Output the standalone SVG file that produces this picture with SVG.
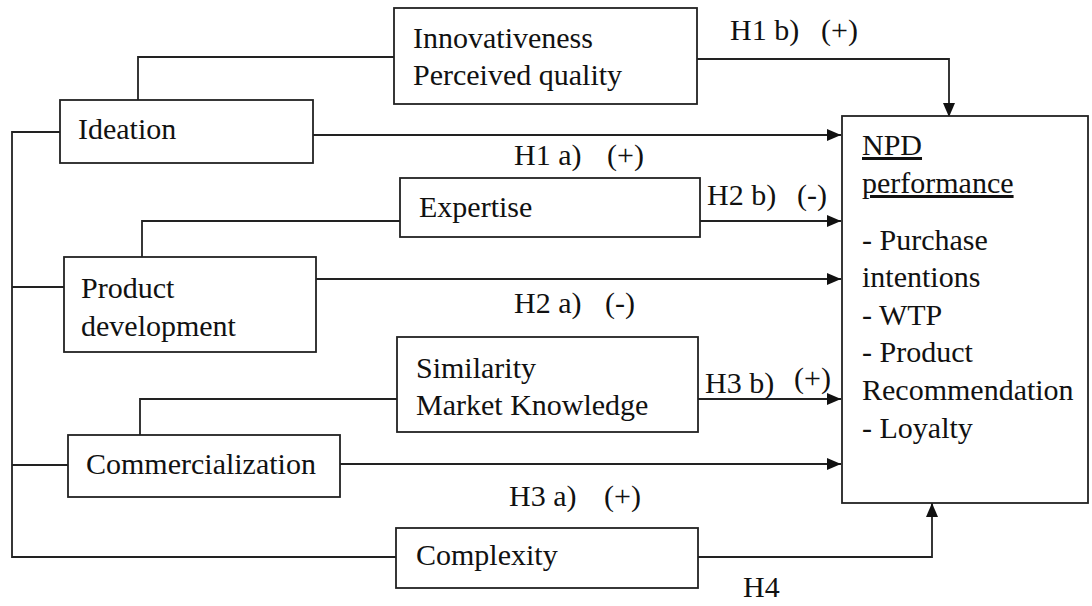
<svg xmlns="http://www.w3.org/2000/svg" width="1092" height="606" viewBox="0 0 1092 606">
<style>
  .box { fill: #ffffff; stroke: #222222; stroke-width: 1.8; }
  .ln { fill: none; stroke: #222222; stroke-width: 1.8; }
  .arr { fill: none; stroke: #222222; stroke-width: 1.8; marker-end: url(#ah); }
  text { font-family: "Liberation Serif", "Times New Roman", serif; font-size: 30px; fill: #111111; }
  .u { text-decoration: underline; }
</style>
<defs>
  <marker id="ah" markerUnits="userSpaceOnUse" markerWidth="14" markerHeight="12" refX="14" refY="6" orient="auto">
    <path d="M0,0 L14,6 L0,12 Z" fill="#111111"/>
  </marker>
</defs>
<rect width="1092" height="606" fill="#ffffff"/>

<g id="connectors">
  <polyline class="ln" points="60,132 12,132 12,557 396,557"/>
  <line class="ln" x1="12" y1="287" x2="64" y2="287"/>
  <line class="ln" x1="12" y1="465" x2="68" y2="465"/>
  <polyline class="ln" points="138,100 138,57 394,57"/>
  <polyline class="ln" points="142,257 142,221 400,221"/>
  <polyline class="ln" points="140,435 140,399 397,399"/>
  <polyline class="arr" points="697,59 949,59 949,117"/>
  <line class="arr" x1="313" y1="135" x2="841" y2="135"/>
  <line class="arr" x1="700" y1="221" x2="841" y2="221"/>
  <line class="arr" x1="316" y1="279" x2="841" y2="279"/>
  <line class="arr" x1="698" y1="399" x2="841" y2="399"/>
  <line class="arr" x1="340" y1="464" x2="841" y2="464"/>
  <polyline class="arr" points="698,557 932,557 932,503"/>
  <text x="730" y="40">H1 b)<tspan x="821">(+)</tspan></text>
  <text x="514" y="165">H1 a)<tspan x="607">(+)</tspan></text>
  <text x="707" y="205">H2 b)<tspan x="797">(-)</tspan></text>
  <text x="514" y="313">H2 a)<tspan x="605">(-)</tspan></text>
  <text x="705" y="393">H3 b)<tspan x="794" y="388">(+)</tspan></text>
  <text x="509" y="506">H3 a)<tspan x="604">(+)</tspan></text>
  <text x="743" y="597">H4</text>
</g>

<g id="innovativeness">
  <rect class="box" x="394" y="8" width="303" height="96"/>
  <text x="413" y="48">Innovativeness</text>
  <text x="413" y="85">Perceived quality</text>
</g>
<g id="ideation">
  <rect class="box" x="60" y="100" width="253" height="63"/>
  <text x="78" y="139">Ideation</text>
</g>
<g id="expertise">
  <rect class="box" x="400" y="178" width="300" height="59"/>
  <text x="419" y="217">Expertise</text>
</g>
<g id="product-development">
  <rect class="box" x="64" y="257" width="252" height="95"/>
  <text x="81" y="298">Product</text>
  <text x="81" y="336">development</text>
</g>
<g id="similarity">
  <rect class="box" x="397" y="337" width="301" height="95"/>
  <text x="416" y="378">Similarity</text>
  <text x="416" y="415">Market Knowledge</text>
</g>
<g id="commercialization">
  <rect class="box" x="68" y="435" width="272" height="62"/>
  <text x="86" y="474">Commercialization</text>
</g>
<g id="complexity">
  <rect class="box" x="396" y="528" width="302" height="60"/>
  <text x="416" y="565">Complexity</text>
</g>
<g id="npd-performance">
  <rect class="box" x="842" y="116" width="246" height="387"/>
  <text x="862" y="155" class="u">NPD</text>
  <text x="862" y="193" class="u">performance</text>
  <text x="862" y="250">- Purchase</text>
  <text x="862" y="287">intentions</text>
  <text x="862" y="325">- WTP</text>
  <text x="862" y="362">- Product</text>
  <text x="862" y="400">Recommendation</text>
  <text x="862" y="438">- Loyalty</text>
</g>
</svg>
